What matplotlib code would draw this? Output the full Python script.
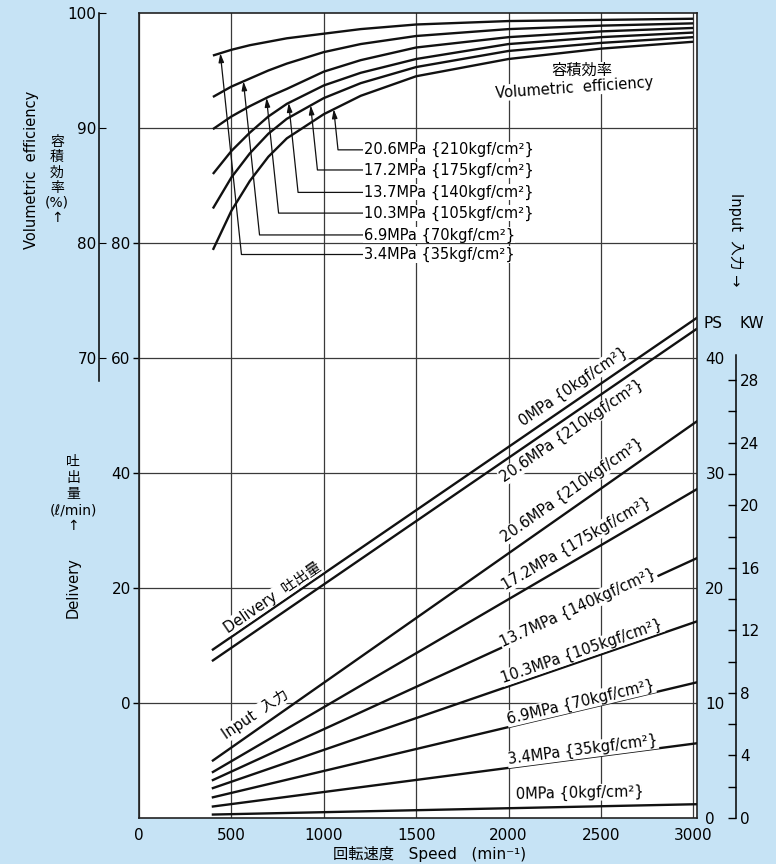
import numpy as np
import matplotlib
matplotlib.use('Agg')
import matplotlib.pyplot as plt

plt.rcParams['font.family'] = ['DejaVu Sans', 'Noto Sans CJK JP']

# ---------------- data ----------------
speed_eff = [400, 500, 600, 700, 800, 1000, 1200, 1500, 2000, 2500, 3000]
eff_3_4 = [96.3, 96.8, 97.2, 97.5, 97.8, 98.2, 98.6, 99.0, 99.3, 99.4, 99.5]
eff_6_9 = [92.7, 93.6, 94.3, 95.0, 95.6, 96.6, 97.3, 98.0, 98.6, 98.9, 99.1]
eff_10_3 = [89.9, 91.0, 91.9, 92.7, 93.4, 94.9, 95.9, 97.0, 97.9, 98.4, 98.7]
eff_13_7 = [86.0, 88.0, 89.6, 91.0, 92.1, 93.7, 94.8, 96.0, 97.3, 97.9, 98.3]
eff_17_2 = [83.0, 85.7, 87.8, 89.5, 90.8, 92.6, 93.9, 95.3, 96.7, 97.4, 97.9]
eff_20_6 = [79.4, 82.8, 85.4, 87.5, 89.1, 91.2, 92.8, 94.5, 96.0, 96.9, 97.5]
eff_labels = ["3.4MPa {35kgf/cm²}", "6.9MPa {70kgf/cm²}", "10.3MPa {105kgf/cm²}",
              "13.7MPa {140kgf/cm²}", "17.2MPa {175kgf/cm²}", "20.6MPa {210kgf/cm²}"]

speed_line = [400, 3020]
delivery_0 = [9.3, 67.0]
delivery_20_6 = [7.4, 65.1]
delivery_labels = ["0MPa {0kgf/cm²}", "20.6MPa {210kgf/cm²}"]

input_20_6 = [5.0, 34.5]
input_17_2 = [4.0, 28.6]
input_13_7 = [3.3, 22.6]
input_10_3 = [2.6, 17.1]
input_6_9 = [1.8, 11.8]
input_3_4 = [1.0, 6.5]
input_0 = [0.3, 1.2]
input_labels = ["20.6MPa {210kgf/cm²}", "17.2MPa {175kgf/cm²}", "13.7MPa {140kgf/cm²}",
                "10.3MPa {105kgf/cm²}", "6.9MPa {70kgf/cm²}", "3.4MPa {35kgf/cm²}",
                "0MPa {0kgf/cm²}"]

x_ticks = [0, 500, 1000, 1500, 2000, 2500, 3000]
delivery_ticks = [0, 20, 40, 60, 80]
eff_ticks = [70, 80, 90, 100]
ps_ticks = [0, 10, 20, 30, 40]
kw_ticks = [0, 4, 8, 12, 16, 20, 24, 28]
kw_minor = [2, 6, 10, 14, 18, 22, 26]

# ---------------- layout ----------------
BG = '#c6e3f5'
W, H = 776, 864
fig = plt.figure(figsize=(W / 100, H / 100), dpi=100, facecolor=BG)
ax = fig.add_axes([139 / W, 1 - 818 / H, 558 / W, 805 / H])
ax.set_facecolor('white')
ax.set_xlim(0, 3020)
ax.set_ylim(-20, 120)

ax_eff = ax.twinx()
ax_eff.set_ylim(30, 100)
ax_ps = ax.twinx()
ax_ps.set_ylim(0, 70)
ax_kw = ax.twinx()
ax_kw.set_ylim(0, 70 * 0.7355)

for a in (ax_eff, ax_ps, ax_kw):
    for s in a.spines.values():
        s.set_visible(False)
    a.set_xlim(0, 3020)

# grid
ax.set_xticks(x_ticks)
ax.set_xticklabels([str(v) for v in x_ticks], fontsize=11)
ax.tick_params(axis='x', length=0, pad=7)
ax.set_yticks(delivery_ticks + [100])
ax.set_yticklabels([str(v) for v in delivery_ticks] + [''], fontsize=11)
ax.tick_params(axis='y', direction='out', length=4, width=1, pad=2)
ax.yaxis.get_major_ticks()[-1].tick1line.set_visible(False)
ax.grid(True, color='#3a3a3a', lw=0.9)
for s in ax.spines.values():
    s.set_color('#222222')
    s.set_linewidth(1.2)

# efficiency axis (outer left)
ax_eff.yaxis.set_ticks_position('left')
ax_eff.yaxis.set_label_position('left')
ax_eff.spines['left'].set_visible(True)
ax_eff.spines['left'].set_position(('axes', -0.071))
ax_eff.spines['left'].set_bounds(68.0, 100)
ax_eff.spines['left'].set_linewidth(1.1)
ax_eff.set_yticks(eff_ticks)
ax_eff.set_yticklabels([str(v) for v in eff_ticks], fontsize=11)
ax_eff.tick_params(axis='y', direction='in', length=5, pad=2)

# PS axis
ax_ps.set_yticks(ps_ticks)
ax_ps.set_yticklabels([str(v) for v in ps_ticks], fontsize=11)
ax_ps.tick_params(axis='y', length=0, pad=6)

# kW axis
ax_kw.spines['right'].set_visible(True)
ax_kw.spines['right'].set_position(('axes', (736 - 139) / 558))
ax_kw.spines['right'].set_bounds(0, 29.6)
ax_kw.spines['right'].set_linewidth(1.1)
ax_kw.set_yticks(kw_ticks)
ax_kw.set_yticklabels([str(v) for v in kw_ticks], fontsize=11)
ax_kw.set_yticks(kw_minor, minor=True)
ax_kw.tick_params(axis='y', which='both', direction='in', length=6, width=1, pad=3)

# ---------------- curves ----------------
LW = 1.7
eff_series = [eff_3_4, eff_6_9, eff_10_3, eff_13_7, eff_17_2, eff_20_6]
for e in eff_series:
    ax_eff.plot(speed_eff, e, color='#111111', lw=LW, solid_capstyle='butt')

ax.plot(speed_line, delivery_0, color='#111111', lw=LW)
ax.plot(speed_line, delivery_20_6, color='#111111', lw=LW)

input_series = [input_20_6, input_17_2, input_13_7, input_10_3, input_6_9, input_3_4, input_0]
for p in input_series:
    ax_ps.plot(speed_line, p, color='#111111', lw=LW)

# ---------------- labels along lines ----------------
fig.canvas.draw()


def angle_of(axes, xs, ys):
    p = axes.transData.transform(np.column_stack([xs, ys]))
    return np.degrees(np.arctan2(p[1, 1] - p[0, 1], p[1, 0] - p[0, 0]))


box = dict(facecolor='white', edgecolor='none', pad=0.5)
LFS = 10.5

# delivery labels
dl_pos = [(2353, 55.1), (2342, 47.3)]
for (x, y), s, d in zip(dl_pos, delivery_labels, [delivery_0, delivery_20_6]):
    ax_kw.text(x, y, s, transform=ax.transData, rotation=angle_of(ax, speed_line, d),
               rotation_mode='anchor', ha='center', va='center', fontsize=LFS, bbox=box, zorder=5)

# input labels
in_pos = [(2342, 28.5), (2370, 23.9), (2375, 18.3), (2397, 14.5), (2391, 10.1), (2402, 5.9), (2386, 2.2)]
for (x, y), s, p in zip(in_pos, input_labels, input_series):
    ax_kw.text(x, y, s, transform=ax_ps.transData, rotation=angle_of(ax_ps, speed_line, p),
               rotation_mode='anchor', ha='center', va='center', fontsize=LFS, bbox=box, zorder=5)

ax_kw.text(723, 18.4, 'Delivery  吐出量', transform=ax.transData,
           rotation=angle_of(ax, speed_line, delivery_0), rotation_mode='anchor',
           ha='center', va='center', fontsize=LFS, bbox=box, zorder=5)
ax_kw.text(630, 9.0, 'Input  入力', transform=ax_ps.transData,
           rotation=angle_of(ax_ps, speed_line, input_20_6) - 1, rotation_mode='anchor',
           ha='center', va='center', fontsize=LFS, bbox=box, zorder=5)

# efficiency annotations
text_x = 1217
text_y = [79.0, 80.7, 82.6, 84.4, 86.35, 88.1]
tip_x = [440, 565, 690, 810, 929, 1054]
for e, s, ty, tx in zip(eff_series, eff_labels, text_y, tip_x):
    tipy = np.interp(tx, speed_eff, e)
    ax_kw.annotate(s, xy=(tx, tipy), xycoords=ax_eff.transData,
                   xytext=(text_x, ty), textcoords=ax_eff.transData,
                   ha='left', va='center', fontsize=LFS,
                   bbox=dict(facecolor='white', edgecolor='none', pad=0.3),
                   arrowprops=dict(arrowstyle='-|>,head_length=0.5,head_width=0.15',
                                   connectionstyle='angle,angleA=0,angleB=96,rad=0',
                                   color='#111111', lw=0.9, shrinkA=0, shrinkB=0),
                   zorder=5)

ax_kw.text(2397, 95.0, '容積効率', transform=ax_eff.transData, ha='center', va='center',
           fontsize=11, bbox=box, zorder=5)
ax_kw.text(2359, 93.5, 'Volumetric  efficiency', transform=ax_eff.transData, ha='center',
           va='center', fontsize=10.5, rotation=4, bbox=box, zorder=5)

# ---------------- axis titles ----------------
fig.text(32 / W, 1 - 170 / H, 'Volumetric  efficiency', rotation=90, ha='center', va='center',
         fontsize=10.5)
fig.text(57 / W, 1 - 180 / H, '容\n積\n効\n率\n(%)\n↑', ha='center', va='center',
         fontsize=10, linespacing=1.1)
fig.text(73 / W, 1 - 494 / H, '吐\n出\n量\n(ℓ/min)\n↑', ha='center', va='center',
         fontsize=10, linespacing=1.2)
fig.text(73 / W, 1 - 588 / H, 'Delivery', rotation=90, ha='center', va='center', fontsize=10.5)
fig.text(735 / W, 1 - 240 / H, 'Input  入力 →', rotation=270, ha='center', va='center',
         fontsize=10.5)
fig.text(713 / W, 1 - 323 / H, 'PS', ha='center', va='center', fontsize=11)
fig.text(752 / W, 1 - 323 / H, 'KW', ha='center', va='center', fontsize=11)
fig.text(430 / W, 1 - 862 / H, '回転速度   Speed   (min⁻¹)', ha='center', va='bottom', fontsize=11)

fig.savefig('out.png', dpi=100, facecolor=BG)
